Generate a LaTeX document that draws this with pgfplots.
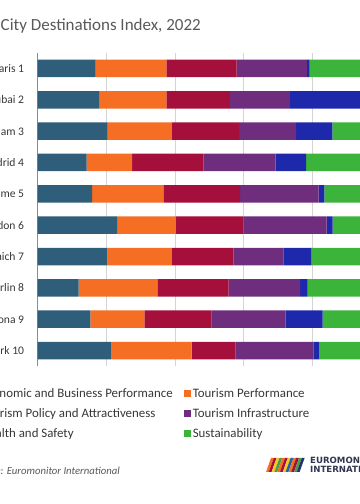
\documentclass[border=0pt]{standalone}
\usepackage{pgfplots}
\pgfplotsset{compat=1.18}
\usepackage{fontspec}
\setmainfont{Carlito}
\newfontfamily\dejavu{DejaVu Sans}
\definecolor{cEcon}{RGB}{47,94,122}
\definecolor{cTour}{RGB}{245,110,35}
\definecolor{cPol}{RGB}{165,15,60}
\definecolor{cInf}{RGB}{110,45,125}
\definecolor{cHea}{RGB}{30,40,170}
\definecolor{cSus}{RGB}{60,180,60}
\definecolor{txt}{RGB}{55,55,55}
\definecolor{ttl}{RGB}{89,89,89}
\definecolor{lgY}{RGB}{250,200,30}
\definecolor{lgG}{RGB}{70,160,70}
\definecolor{lgB}{RGB}{30,100,170}
\definecolor{lgN}{RGB}{35,50,110}
\definecolor{lgT}{RGB}{50,55,80}
\pgfplotsset{sq/.style={legend image code/.code={\fill[##1] (0bp,-2.65bp) rectangle (7.3bp,4.65bp); \path (9bp,0bp);}}}
\begin{document}
\begin{tikzpicture}
\useasboundingbox (0,0) rectangle (360bp,504bp);
\clip (0,0) rectangle (360bp,504bp);
\node[anchor=base west, inner sep=0pt, font=\fontsize{17bp}{20bp}\selectfont, text=ttl] at (0.5bp,473bp) {City Destinations Index, 2022};
\begin{axis}[
  at={(37.7bp,137.8bp)}, anchor=south west,
  scale only axis, width=343.3bp, height=313.4bp,
  xmin=0, xmax=100, ymin=0.5, ymax=10.5, y dir=reverse,
  xbar stacked, bar width=17.5bp,
  axis y line*=left, axis x line*=bottom,
  x axis line style={draw=none},
  y axis line style={draw={rgb,255:red,140;green,140;blue,140}, line width=0.8bp},
  xtick={0,20,40,60,80,100}, xticklabels={},
  xmajorgrids, grid style={draw={rgb,255:red,212;green,212;blue,212}, line width=0.6bp},
  major tick length=0pt,
  ytick={1,...,10},
  yticklabels={Paris 1, Dubai 2, Amsterdam 3, Madrid 4, Rome 5, London 6, Munich 7, Berlin 8, Barcelona 9, New York 10},
  yticklabel style={font=\fontsize{11.6bp}{13bp}\selectfont, text=txt, inner sep=0pt, xshift=-13.4bp},
  legend columns=2,
  legend cell align=left,
  legend style={draw=none, fill=none, inner sep=0pt, outer sep=0pt,
    at={(0.7912,-0.0712)}, anchor=north east, column sep=0pt, row sep=8bp,
    font=\fontsize{12.9bp}{15bp}\selectfont, text=txt,
    nodes={inner sep=0pt, text height=9bp, text depth=3bp},
    /tikz/every even column/.append style={column sep=11bp}},
]
\addplot[fill=cEcon, draw=none, sq] coordinates {(16.9,1) (17.86,2) (20.39,3) (14.27,4) (15.82,5) (23.1,6) (20.27,7) (11.94,8) (15.32,9) (21.35,10)};
\addlegendentry{Economic and Business Performance}
\addplot[fill=cTour, draw=none, sq] coordinates {(20.56,1) (19.6,2) (18.73,3) (13.2,4) (20.77,5) (17.18,6) (18.85,7) (22.9,8) (15.73,9) (23.51,10)};
\addlegendentry{Tourism Performance}
\addplot[fill=cPol, draw=none, sq] coordinates {(20.51,1) (18.55,2) (19.52,3) (20.77,4) (22.34,5) (19.61,6) (17.86,7) (20.8,8) (19.63,9) (12.82,10)};
\addlegendentry{Tourism Policy and Attractiveness}
\addplot[fill=cInf, draw=none, sq] coordinates {(20.47,1) (17.48,2) (16.6,3) (21.09,4) (22.92,5) (24.29,6) (14.56,7) (20.77,8) (21.56,9) (22.6,10)};
\addlegendentry{Tourism Infrastructure}
\addplot[fill=cHea, draw=none, sq] coordinates {(0.79,1) (23.5,2) (10.58,3) (8.83,4) (1.63,5) (1.75,6) (8.07,7) (2.24,8) (10.78,9) (1.75,10)};
\addlegendentry{Health and Safety}
\addplot[fill=cSus, draw=none, sq] coordinates {(20.77,1) (3.01,2) (14.18,3) (21.84,4) (16.52,5) (14.07,6) (20.39,7) (21.35,8) (16.98,9) (17.97,10)};
\addlegendentry{Sustainability}
\end{axis}
\node[anchor=base east, inner sep=0pt, font=\fontsize{10.7bp}{12bp}\selectfont\itshape, text=ttl] at (120bp,29.5bp) {Source: Euromonitor International};
\foreach \c [count=\i] in {cTour,cPol,lgY,lgG,cTour,cPol,lgY,lgB,cTour,cPol,lgG,lgN}{
  \pgfmathsetmacro\xx{266+2.8*(\i-1)}
  \fill[\c] (\xx bp,32bp) -- ++(2.8bp,0) -- ++(5bp,14bp) -- ++(-2.8bp,0) -- cycle;
}
\node[anchor=base west, inner sep=0pt, font=\dejavu\bfseries\fontsize{8.6bp}{9bp}\selectfont, text=lgT] at (310bp,40bp) {EUROMONITOR};
\node[anchor=base west, inner sep=0pt, font=\dejavu\bfseries\fontsize{8.6bp}{9bp}\selectfont, text=lgT] at (310bp,32bp) {INTERNATIONAL};
\end{tikzpicture}
\end{document}
